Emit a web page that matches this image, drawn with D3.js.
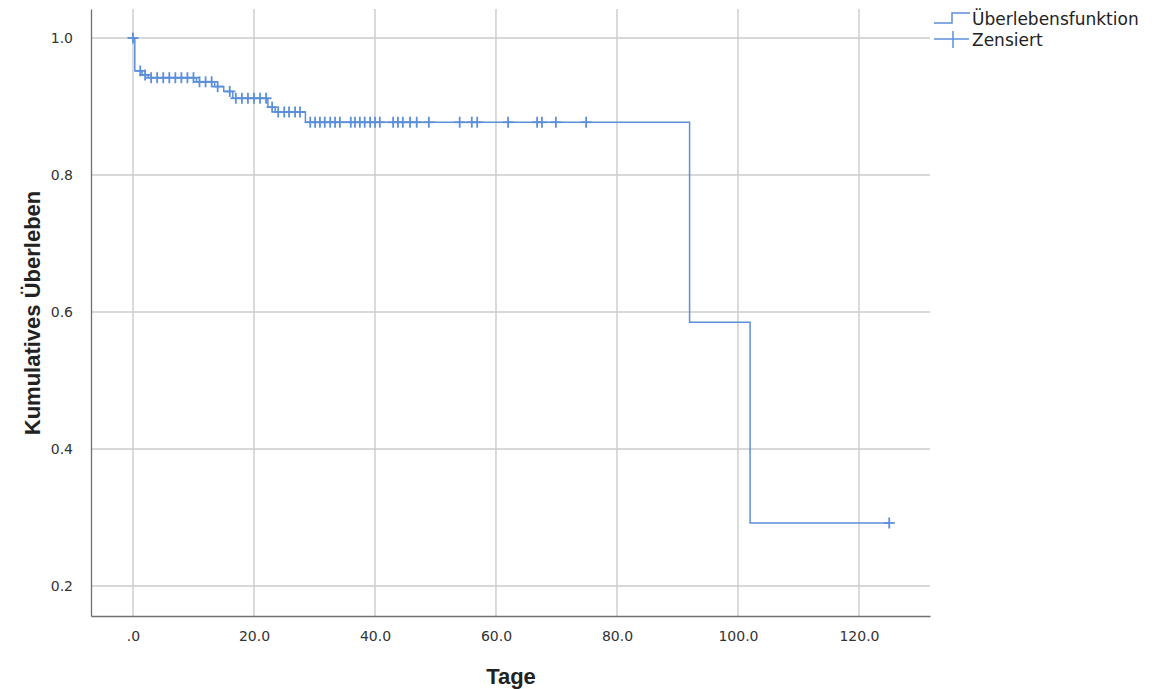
<!DOCTYPE html>
<html>
<head>
    <meta charset="UTF-8">
    <title>Kaplan-Meier</title>
    <script src="https://d3js.org/d3.v7.min.js"></script>
    <style type="text/css">
        body { margin: 0; background: #fff; }
        text { font-family: "DejaVu Sans", Verdana, sans-serif; }
    </style>
</head>
<body>
<script type="text/javascript">
    // Event times (days) and survival right after each step
    var stepTimes = [0, 0.3, 1.5, 2.5, 10.5, 13.5, 15.0, 16.5, 22.3, 23.5, 28.5, 92, 102, 125];
    var stepSurv  = [1.0, 0.952, 0.946, 0.942, 0.936, 0.929, 0.922, 0.912, 0.899, 0.892, 0.877, 0.585, 0.292, 0.292];

    // Censored observations (days)
    var censorTimes = [0, 1.2, 2.0, 3, 4, 5, 6, 7, 8, 9, 10, 11, 12, 13, 14, 16, 17, 18, 19, 20, 21, 22, 23,
        24, 25, 25.8, 26.8, 27.6, 29.3, 30.1, 30.9, 31.7, 32.6, 33.4, 34.2, 36.0, 36.7, 37.5, 38.3, 39.2,
        40.0, 40.8, 43.0, 43.8, 44.6, 45.8, 46.9, 48.9, 54.0, 56.0, 56.9, 62.0, 66.8, 67.6, 69.9, 74.9, 125];

    var xTicks = [0, 20, 40, 60, 80, 100, 120];
    var xTickLabels = [".0", "20.0", "40.0", "60.0", "80.0", "100.0", "120.0"];
    var yTicks = [0.2, 0.4, 0.6, 0.8, 1.0];
    var yTickLabels = ["0.2", "0.4", "0.6", "0.8", "1.0"];

    var W = 1162, H = 689;
    var blue = "#5b8fdc";

    var svg = d3.select("body").append("svg")
        .attr("width", W)
        .attr("height", H);

    var x = d3.scaleLinear().domain([-6.94, 131.74]).range([91, 930]);
    var y = d3.scaleLinear().domain([0.1562, 1.0423]).range([616, 9]);

    // grid lines
    svg.append("g").selectAll("line").data(xTicks).enter().append("line")
        .attr("x1", function (d) { return x(d); })
        .attr("x2", function (d) { return x(d); })
        .attr("y1", y.range()[1])
        .attr("y2", y.range()[0])
        .attr("stroke", "#cbcbcb")
        .attr("stroke-width", 1.4);

    svg.append("g").selectAll("line").data(yTicks).enter().append("line")
        .attr("x1", x.range()[0])
        .attr("x2", x.range()[1])
        .attr("y1", function (d) { return y(d); })
        .attr("y2", function (d) { return y(d); })
        .attr("stroke", "#cbcbcb")
        .attr("stroke-width", 1.4);

    // axes
    var xAxis = d3.axisBottom(x).tickValues(xTicks).tickSize(0)
        .tickFormat(function (d, i) { return xTickLabels[i]; });
    var gx = svg.append("g")
        .attr("transform", "translate(0,616)")
        .call(xAxis);
    gx.select(".domain").attr("stroke", "#707070").attr("stroke-width", 1.3);
    gx.selectAll("text")
        .attr("dy", 0)
        .attr("y", 25)
        .style("font-size", "14px")
        .style("font-family", "'DejaVu Sans', Verdana, sans-serif")
        .attr("fill", "#333");

    var yAxis = d3.axisLeft(y).tickValues(yTicks).tickSize(0)
        .tickFormat(function (d, i) { return yTickLabels[i]; });
    var gy = svg.append("g")
        .attr("transform", "translate(91,0)")
        .call(yAxis);
    gy.select(".domain").attr("stroke", "#707070").attr("stroke-width", 1.3);
    gy.selectAll("text")
        .attr("x", -18)
        .style("font-size", "14px")
        .style("font-family", "'DejaVu Sans', Verdana, sans-serif")
        .attr("fill", "#333");

    // axis titles
    svg.append("text")
        .attr("x", 511)
        .attr("y", 684)
        .attr("text-anchor", "middle")
        .style("font-family", "'Liberation Sans Narrow', 'Liberation Sans', Arial, sans-serif")
        .style("font-weight", "bold")
        .style("font-size", "22px")
        .attr("fill", "#222")
        .text("Tage");

    svg.append("text")
        .attr("transform", "translate(40,313) rotate(-90)")
        .attr("text-anchor", "middle")
        .style("font-family", "'Liberation Sans Narrow', 'Liberation Sans', Arial, sans-serif")
        .style("font-weight", "bold")
        .style("font-size", "22px")
        .attr("fill", "#222")
        .text("Kumulatives Überleben");

    // survival step curve
    var pts = stepTimes.map(function (t, i) { return [t, stepSurv[i]]; });
    var line = d3.line()
        .x(function (d) { return x(d[0]); })
        .y(function (d) { return y(d[1]); })
        .curve(d3.curveStepAfter);

    svg.append("path")
        .datum(pts)
        .attr("fill", "none")
        .attr("stroke", blue)
        .attr("stroke-width", 1.5)
        .attr("d", line);

    // survival value at time t (step function lookup)
    function survAt(t) {
        var s = stepSurv[0];
        for (var i = 0; i < stepTimes.length; i++) {
            if (stepTimes[i] <= t) s = stepSurv[i];
        }
        return s;
    }

    // censor marks
    var cg = svg.append("g").attr("stroke", blue).attr("stroke-width", 1.8);
    censorTimes.forEach(function (t) {
        var cx = x(t), cy = y(survAt(t));
        cg.append("line").attr("x1", cx - 5.5).attr("x2", cx + 5.5).attr("y1", cy).attr("y2", cy);
        cg.append("line").attr("x1", cx).attr("x2", cx).attr("y1", cy - 5.5).attr("y2", cy + 5.5);
    });

    // legend
    var lg = svg.append("g");
    lg.append("path")
        .attr("d", "M934,23H952V13H970")
        .attr("fill", "none")
        .attr("stroke", blue)
        .attr("stroke-width", 1.5);
    lg.append("line").attr("x1", 934).attr("x2", 969).attr("y1", 39).attr("y2", 39)
        .attr("stroke", blue).attr("stroke-width", 1.5);
    lg.append("line").attr("x1", 953).attr("x2", 953).attr("y1", 31).attr("y2", 48)
        .attr("stroke", blue).attr("stroke-width", 1.5);
    lg.append("text")
        .attr("x", 972).attr("y", 25)
        .style("font-size", "17px")
        .attr("fill", "#222")
        .text("Überlebensfunktion");
    lg.append("text")
        .attr("x", 972).attr("y", 46)
        .style("font-size", "17px")
        .attr("fill", "#222")
        .text("Zensiert");
</script>
</body>
</html>
